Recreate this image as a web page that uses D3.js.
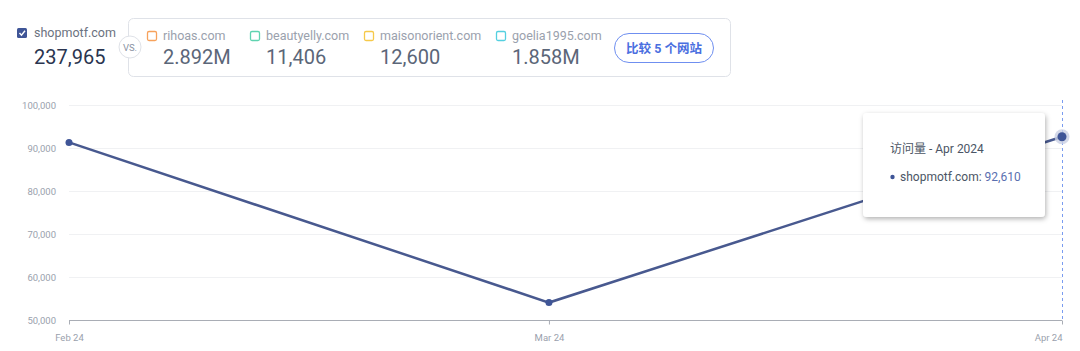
<!DOCTYPE html>
<html><head><meta charset="utf-8">
<script src="https://cdn.jsdelivr.net/npm/d3@7"></script>
<style>
html,body{margin:0;padding:0;background:#fff;}
svg{display:block;font-family:Roboto,"Noto Sans CJK SC",sans-serif;}
</style></head>
<body>
<svg id="chart" width="1080" height="351"></svg>
<script>
const months = ["2024-02-01","2024-03-01","2024-04-01"];
const monthLabels = ["Feb 24","Mar 24","Apr 24"];
const visits = [91300, 54055, 92610];
const yTicks = [50000,60000,70000,80000,90000,100000];
const mainSite = "shopmotf.com";
const mainTotal = "237,965";
const compSites = ["rihoas.com","beautyelly.com","maisonorient.com","goelia1995.com"];
const compValues = ["2.892M","11,406","12,600","1.858M"];
const compColors = ["#f7a25c","#5fd3b0","#f6c94a","#54d0e0"];
const compX = [147,250,364,496];

const svg = d3.select("#chart");
const parse = d3.utcParse("%Y-%m-%d");
const dates = months.map(parse);
const data = dates.map((d,i)=>({date:d, v:visits[i]}));

const x = d3.scaleUtc().domain(d3.extent(dates)).range([69,1062]);
const y = d3.scaleLinear().domain([50000,100000]).range([320,105]);

// header
const hdr = svg.append("g");
hdr.append("rect").attr("x",17).attr("y",28).attr("width",10).attr("height",10).attr("rx",1.5).attr("fill","#3f5597");
hdr.append("path").attr("d","M19.5,33 L21.5,35.2 L25,30.8").attr("fill","none").attr("stroke","#fff").attr("stroke-width",1.4);
hdr.append("text").attr("x",34).attr("y",37).attr("font-size",12.5).attr("fill","#6b7280").text(mainSite);
hdr.append("text").attr("x",34).attr("y",64).attr("font-size",20).attr("fill","#2a3550").text(mainTotal);

hdr.append("rect").attr("x",128.5).attr("y",18.5).attr("width",602).attr("height",58).attr("rx",5).attr("fill","#fff").attr("stroke","#dfe2e8");
hdr.append("circle").attr("cx",130).attr("cy",47).attr("r",11).attr("fill","#fff").attr("stroke","#dfe2e8");
hdr.append("text").attr("x",130).attr("y",50.5).attr("text-anchor","middle").attr("font-size",9.5).attr("fill","#8a93a3").text("VS.");

compSites.forEach((s,i)=>{
  const g = hdr.append("g");
  g.append("rect").attr("x",compX[i]+0.5).attr("y",31.5).attr("width",9).attr("height",9).attr("rx",1.5).attr("fill","none").attr("stroke",compColors[i]).attr("stroke-width",1.3);
  g.append("text").attr("x",compX[i]+16).attr("y",40).attr("font-size",12.5).attr("fill","#9aa1ad").text(s);
  g.append("text").attr("x",compX[i]+16).attr("y",64).attr("font-size",20).attr("fill","#5b6678").text(compValues[i]);
});
hdr.append("rect").attr("x",614.5).attr("y",33.5).attr("width",99).attr("height",29).attr("rx",14.5).attr("fill","#fff").attr("stroke","#6f8ff0");
hdr.append("text").attr("x",664).attr("y",52.5).attr("text-anchor","middle").attr("font-size",12.5).attr("font-weight","bold").attr("fill","#4a6fe0").text("比较 5 个网站");

// grid
svg.append("g").selectAll("line").data(yTicks.filter(t=>t>50000)).join("line")
  .attr("x1",69).attr("x2",1062).attr("y1",d=>y(d)+0.5).attr("y2",d=>y(d)+0.5)
  .attr("stroke","#f0f1f3");

// y axis labels
const yAxis = d3.axisLeft(y).tickValues(yTicks).tickFormat(d3.format(",")).tickSize(0).tickPadding(0);
const ya = svg.append("g").attr("transform","translate(56,0)").call(yAxis);
ya.select(".domain").remove();
ya.selectAll("text").attr("font-size",9.5).attr("fill","#9aa1ad").attr("font-family","Roboto,sans-serif").attr("dy","0.35em");

// x axis
const xAxis = d3.axisBottom(x).tickValues(dates).tickFormat((d,i)=>monthLabels[i]).tickSize(4).tickSizeOuter(0).tickPadding(10);
const xa = svg.append("g").attr("transform","translate(0,320.5)").call(xAxis);
xa.select(".domain").attr("stroke","#a9adb5").attr("d","M69,0H1062");
xa.selectAll(".tick line").attr("stroke","#a9adb5");
xa.selectAll("text").attr("font-size",9.5).attr("fill","#9aa1ad").attr("font-family","Roboto,sans-serif");
xa.selectAll(".tick").filter((d,i)=>i===dates.length-1).select("text").attr("text-anchor","end");

// hover line
svg.append("line").attr("x1",x(dates[2])+0.5).attr("x2",x(dates[2])+0.5).attr("y1",100).attr("y2",320)
  .attr("stroke","#7a9cf0").attr("stroke-dasharray","3,3").attr("stroke-width",1);

// line
const line = d3.line().x(d=>x(d.date)).y(d=>y(d.v));
svg.append("path").datum(data).attr("d",line).attr("fill","none").attr("stroke","#48598f").attr("stroke-width",2.5);
svg.append("g").selectAll("circle").data(data.slice(0,2)).join("circle")
  .attr("cx",d=>x(d.date)).attr("cy",d=>y(d.v)).attr("r",3.5).attr("fill","#3f5597");
const last = data[2];
svg.append("circle").attr("cx",x(last.date)).attr("cy",y(last.v)).attr("r",7.5).attr("fill","#c9d0e4").attr("opacity",0.8);
svg.append("circle").attr("cx",x(last.date)).attr("cy",y(last.v)).attr("r",4.5).attr("fill","#3f5597");

// tooltip
const defs = svg.append("defs");
const f = defs.append("filter").attr("id","sh").attr("x","-20%").attr("y","-20%").attr("width","140%").attr("height","150%");
f.append("feDropShadow").attr("dx",1).attr("dy",2).attr("stdDeviation",2.5).attr("flood-color","#000").attr("flood-opacity",0.3);
const tt = svg.append("g");
tt.append("rect").attr("x",863).attr("y",113).attr("width",182).attr("height",104).attr("rx",4).attr("fill","#fff").attr("filter","url(#sh)");
tt.append("text").attr("x",890).attr("y",153).attr("font-size",12).attr("fill","#4b5565")
  .text("访问量 - " + d3.utcFormat("%b %Y")(last.date));
tt.append("circle").attr("cx",892.5).attr("cy",177).attr("r",2.2).attr("fill","#3f5597");
const t2 = tt.append("text").attr("x",900).attr("y",181).attr("font-size",12).attr("fill","#4b5565");
t2.append("tspan").text(mainSite + ": ");
t2.append("tspan").attr("fill","#5a6fb0").text(d3.format(",")(last.v));
</script>
</body></html>
